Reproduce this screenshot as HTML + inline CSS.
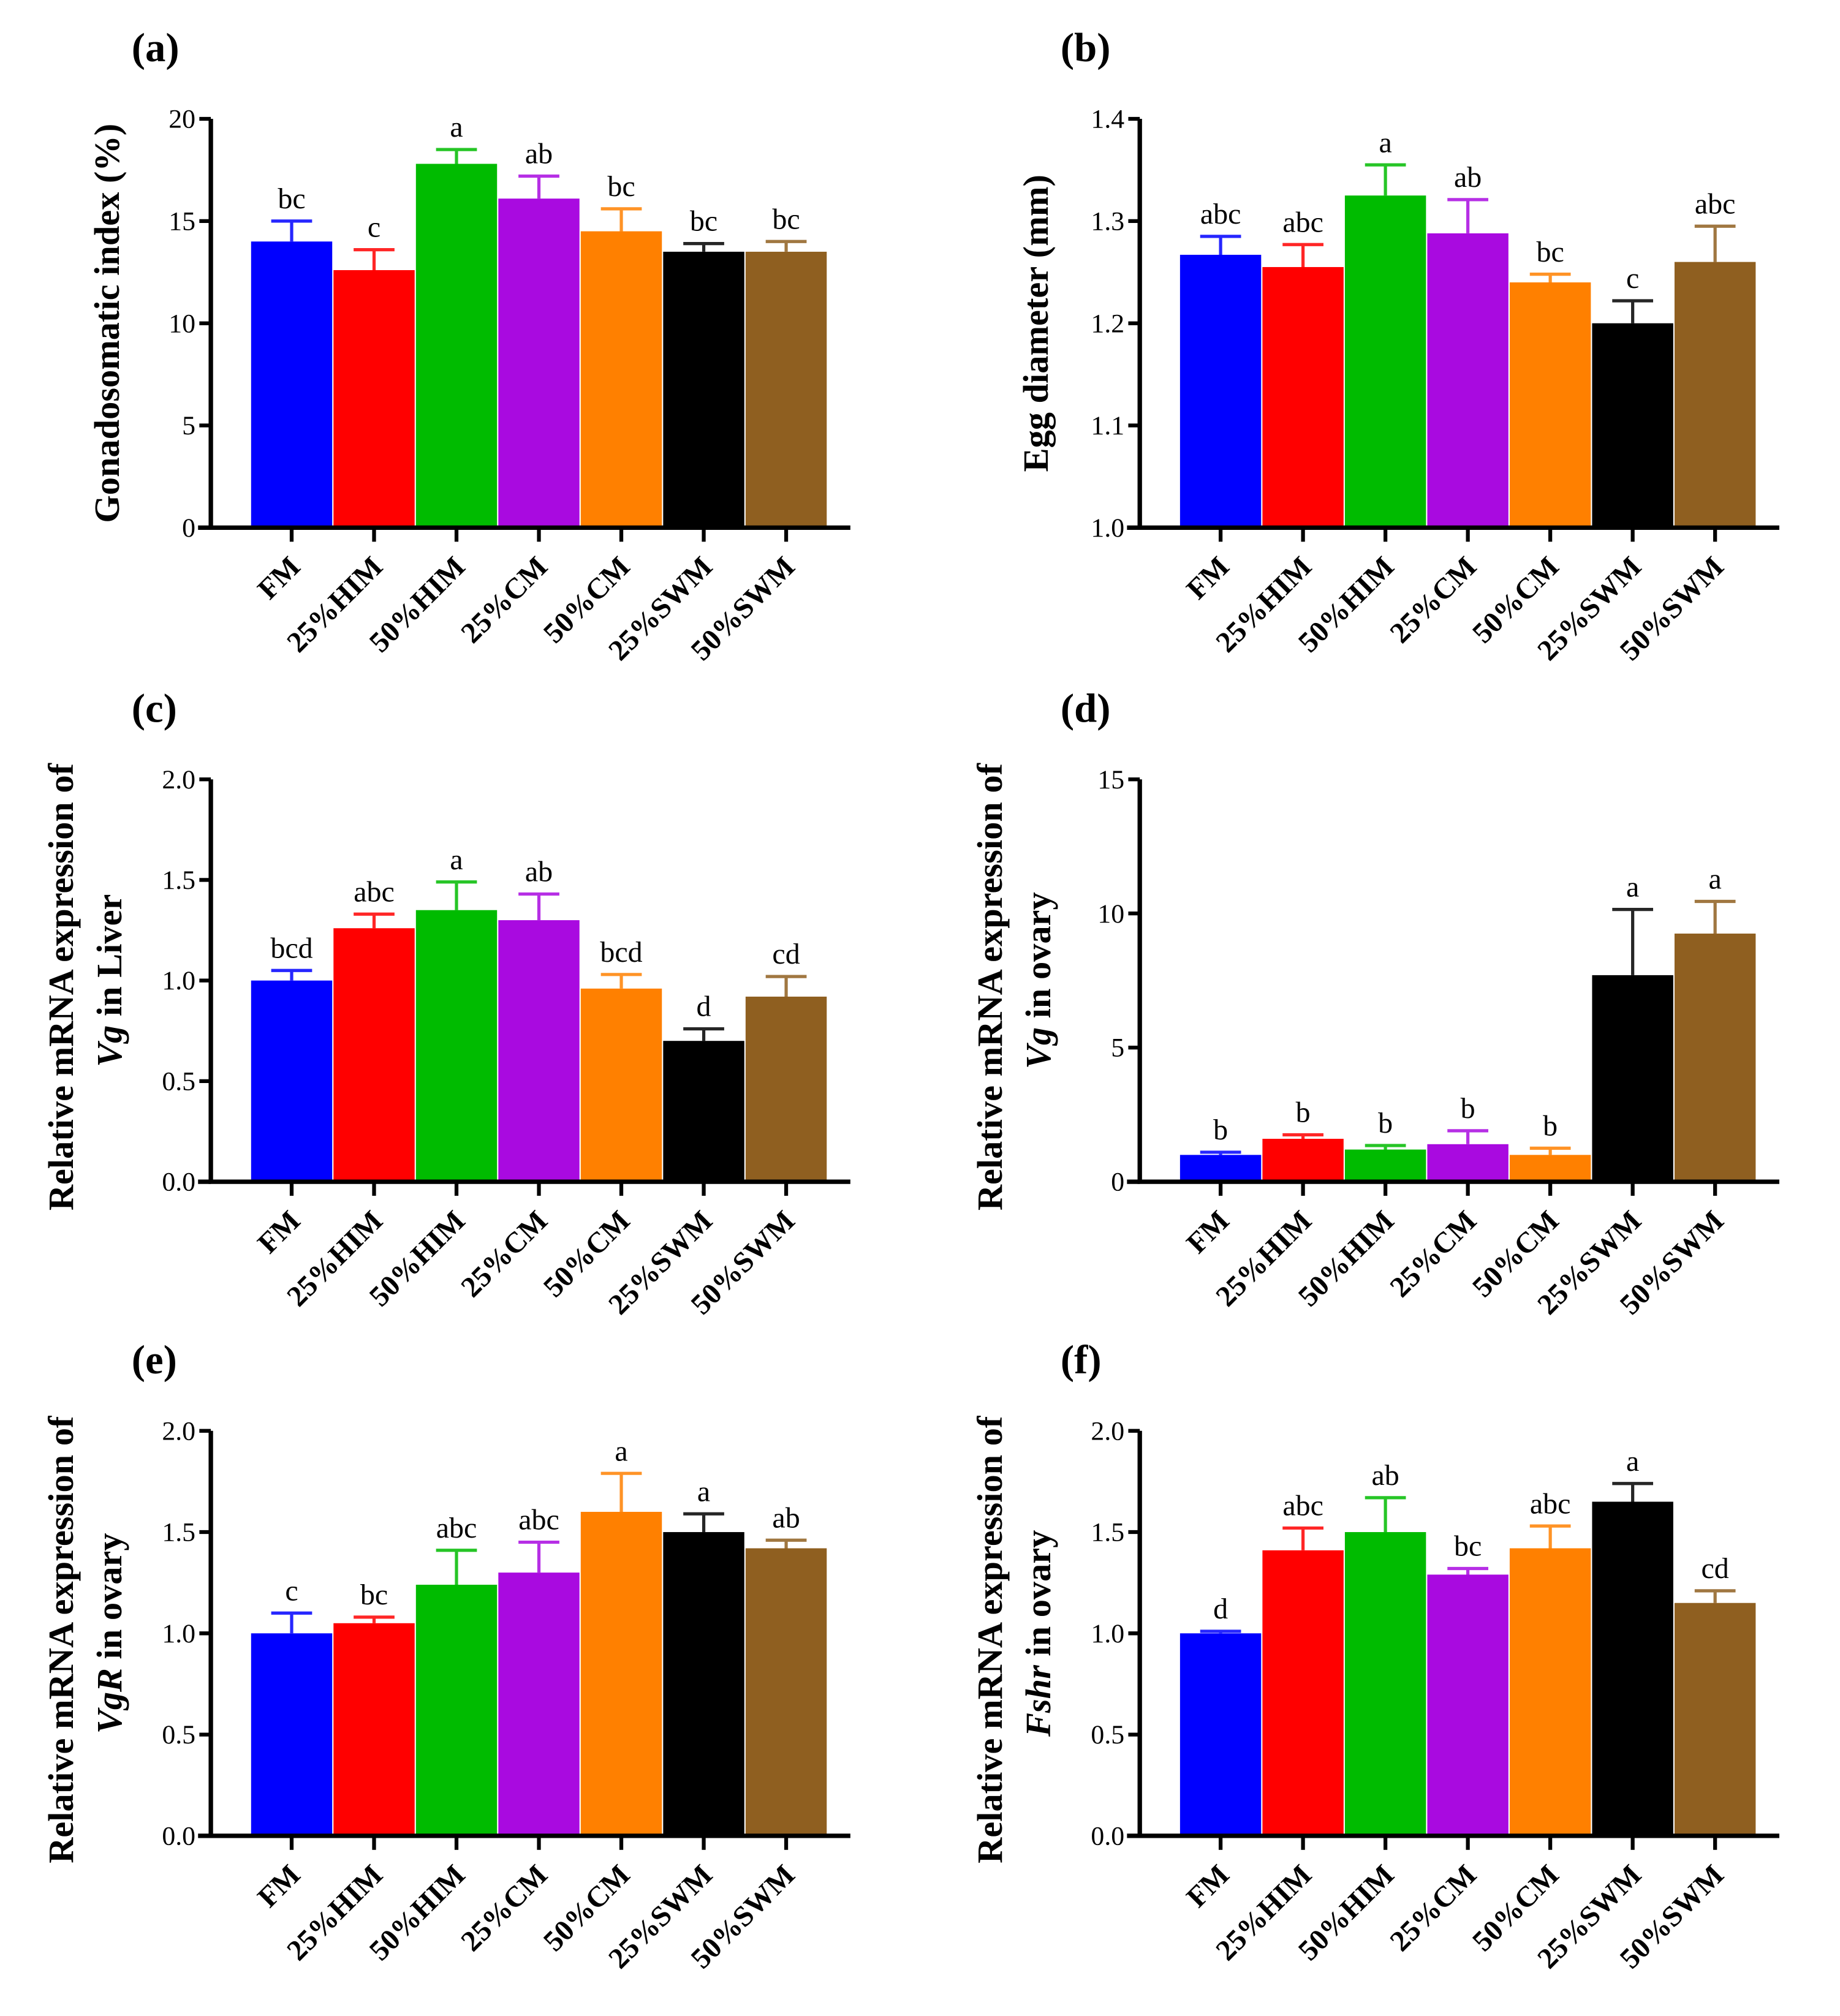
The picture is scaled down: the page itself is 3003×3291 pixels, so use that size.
<!DOCTYPE html>
<html><head><meta charset="utf-8"><style>
html,body{margin:0;padding:0;background:#fff}
svg{display:block}
text{font-family:"Liberation Serif",serif;font-weight:bold;fill:#000}
.lt{font-weight:normal}
</style></head><body>
<svg id="fig" width="3003" height="3291" viewBox="0 0 1440 1578" xmlns="http://www.w3.org/2000/svg"></svg>
<script>
const categories = ["FM","25%HIM","50%HIM","25%CM","50%CM","25%SWM","50%SWM"];
const colors = ["#0000ff","#ff0000","#00bb00","#a90ae0","#ff8000","#000000","#8f5f20"];
const aValues = [14.0,12.6,17.8,16.1,14.5,13.5,13.5];
const aErrors = [1.0,1.0,0.7,1.1,1.1,0.4,0.5];
const aLetters = ["bc","c","a","ab","bc","bc","bc"];
const aTicks = [0,5,10,15,20];
const bValues = [1.267,1.255,1.325,1.288,1.24,1.20,1.26];
const bErrors = [0.018,0.022,0.03,0.033,0.008,0.022,0.035];
const bLetters = ["abc","abc","a","ab","bc","c","abc"];
const bTicks = [1.0,1.1,1.2,1.3,1.4];
const cValues = [1.0,1.26,1.35,1.30,0.96,0.70,0.92];
const cErrors = [0.05,0.07,0.14,0.13,0.07,0.06,0.10];
const cLetters = ["bcd","abc","a","ab","bcd","d","cd"];
const dValues = [1.0,1.6,1.2,1.4,1.0,7.7,9.25];
const dErrors = [0.1,0.15,0.15,0.5,0.25,2.45,1.2];
const dLetters = ["b","b","b","b","b","a","a"];
const dTicks = [0,5,10,15];
const eValues = [1.0,1.05,1.24,1.30,1.60,1.50,1.42];
const eErrors = [0.1,0.03,0.17,0.15,0.19,0.09,0.04];
const eLetters = ["c","bc","abc","abc","a","a","ab"];
const fValues = [1.0,1.41,1.50,1.29,1.42,1.65,1.15];
const fErrors = [0.01,0.11,0.17,0.03,0.11,0.09,0.06];
const fLetters = ["d","abc","ab","bc","abc","a","cd"];
const relTicks = [0.0,0.5,1.0,1.5,2.0];

const NS="http://www.w3.org/2000/svg";
const svg=document.getElementById('fig');
function mk(tag,attrs,parent){const e=document.createElementNS(NS,tag);for(const k in attrs)e.setAttribute(k,attrs[k]);(parent||svg).appendChild(e);return e;}

function panel(id,ax,top,bot,ticks,vals,errs,lets,tickFmt,title1,title2){
  const g=mk('g',{});
  
  
  const ymin=ticks[0],ymax=ticks[ticks.length-1];
  const y=v=>bot-(v-ymin)/(ymax-ymin)*(bot-top);
  const bw=64.5,x0=ax+31;
  const lab=mk('text',{x:ax-62,y:top-45,'font-size':32},g);lab.textContent='('+id+')';
  
  
  vals.forEach((v,i)=>{
    const bx=x0+i*bw, cx=bx+bw/2;
    const r=mk('rect',{x:bx+0.5,y:y(v),width:bw-1,height:bot-y(v),fill:colors[i]},g);
    
    
    const te=y(v+errs[i]);
    const eb=mk('path',{d:`M${cx} ${y(v)}V${te}M${cx-16} ${te}H${cx+16}`,stroke:colors[i],'stroke-width':2.5,fill:'none',opacity:0.85},g);
    
    
    const t=mk('text',{x:cx,y:te-10,'font-size':23,'text-anchor':'middle',class:'lt'},g);t.textContent=lets[i];
    
    
    mk('line',{x1:cx,x2:cx,y1:bot,y2:bot+11,stroke:'#000','stroke-width':3},g);
    const xl=mk('text',{x:cx+8,y:bot+32,'font-size':23,'text-anchor':'end',transform:`rotate(-45 ${cx+8} ${bot+32})`},g);
    xl.textContent=categories[i];
    
    
  });
  const xend=x0+7*bw+18;
  const axis=mk('path',{d:`M${ax} ${top}V${bot}H${xend}`,stroke:'#000','stroke-width':3.5,fill:'none'},g);
  
  
  mk('line',{x1:ax-10,x2:ax,y1:bot,y2:bot,stroke:'#000','stroke-width':3.5},g);
  ticks.forEach(tv=>{
    mk('line',{x1:ax-9,x2:ax,y1:y(tv),y2:y(tv),stroke:'#000','stroke-width':3},g);
    const t=mk('text',{x:ax-12,y:y(tv)+7,'font-size':21,'text-anchor':'end',class:'lt'},g);t.textContent=tickFmt(tv);
    
    
  });
  const cy=(top+bot)/2;
  if(title2===null){
    const t=mk('text',{x:ax-72,y:cy,'font-size':28,'text-anchor':'middle',transform:`rotate(-90 ${ax-72} ${cy})`},g);t.textContent=title1;
    
    
  } else {
    const t=mk('text',{x:ax-108,y:cy+5,'font-size':28,'text-anchor':'middle',transform:`rotate(-90 ${ax-108} ${cy+5})`},g);t.textContent='Relative mRNA expression of';
    
    
    const t2=mk('text',{x:ax-70,y:cy,'font-size':28,'text-anchor':'middle',transform:`rotate(-90 ${ax-70} ${cy})`},g);
    
    
    const it=mk('tspan',{'font-style':'italic'},t2);it.textContent=title1;
    const rest=mk('tspan',{},t2);rest.textContent=' '+title2;
  }
}
const f1=v=>v.toFixed(1), f0=v=>String(v);
panel('a',165,93,413,aTicks,aValues,aErrors,aLetters,f0,'Gonadosomatic index (%)',null);
panel('b',892,93,413,bTicks,bValues,bErrors,bLetters,f1,'Egg diameter (mm)',null);
panel('c',165,610,925,relTicks,cValues,cErrors,cLetters,f1,'Vg','in Liver');
panel('d',892,610,925,dTicks,dValues,dErrors,dLetters,f0,'Vg','in ovary');
panel('e',165,1120,1437,relTicks,eValues,eErrors,eLetters,f1,'VgR','in ovary');
panel('f',892,1120,1437,relTicks,fValues,fErrors,fLetters,f1,'Fshr','in ovary');
</script>
</body></html>
